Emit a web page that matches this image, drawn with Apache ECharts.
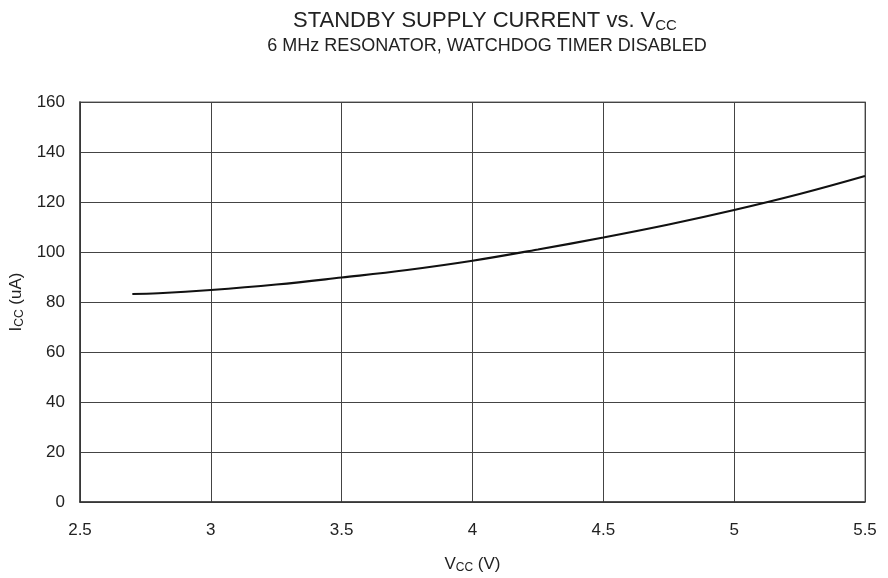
<!DOCTYPE html>
<html>
<head>
<meta charset="utf-8">
<script src="https://cdn.jsdelivr.net/npm/echarts@6/dist/echarts.min.js"></script>
<style>
  html, body { margin: 0; padding: 0; background: #fff; }
  #chart { width: 888px; height: 578px; }
</style>
</head>
<body>
<div id="chart"></div>
<script>
// Vcc (V) and standby Icc (uA)
var vcc = [2.7, 2.8, 3.0, 3.25, 3.5, 3.75, 4.0, 4.25, 4.5, 4.75, 5.0, 5.25, 5.5]
var icc = [83.2, 83.5, 84.8, 87.0, 89.8, 92.8, 96.5, 101.0, 105.8, 111.0, 116.8, 123.2, 130.4]
var xTicks = [2.5, 3, 3.5, 4, 4.5, 5, 5.5]
var yTicks = [0, 20, 40, 60, 80, 100, 120, 140, 160]

var FONT = 'Liberation Sans, Arial, sans-serif'
var chart = echarts.init(document.getElementById('chart'))

var points = vcc.map(function (v, i) { return [v, icc[i]] })

chart.setOption({
  animation: false,
  textStyle: { fontFamily: FONT },
  title: [
    {
      text: '{a|STANDBY SUPPLY CURRENT vs. V}{s|CC}',
      left: 480,
      top: 4,
      textAlign: 'center',
      textStyle: {
        fontWeight: 'normal',
        rich: {
          a: { fontSize: 22, fontWeight: 'normal', color: '#222', fontFamily: FONT },
          s: { fontSize: 15, fontWeight: 'normal', color: '#222', fontFamily: FONT, padding: [9, 0, 0, 0] }
        }
      }
    },
    {
      text: '6 MHz RESONATOR, WATCHDOG TIMER DISABLED',
      left: 482,
      top: 32,
      textAlign: 'center',
      textStyle: { fontSize: 18, fontWeight: 'normal', color: '#222', fontFamily: FONT }
    }
  ],
  grid: {
    left: 80,
    right: 23,
    top: 102,
    bottom: 76,
    outerBoundsMode: 'none',
    containLabel: false,
    show: true,
    borderColor: '#999',
    borderWidth: 1.5
  },
  xAxis: {
    type: 'value',
    min: 2.5,
    max: 5.5,
    interval: 0.5,
    name: '{a|V}{s|CC}{a| (V)}',
    nameLocation: 'middle',
    nameGap: 53,
    nameTextStyle: {
      rich: {
        a: { fontSize: 17, color: '#222', fontFamily: FONT },
        s: { fontSize: 12, color: '#222', fontFamily: FONT, padding: [7, 0, 0, 0] }
      }
    },
    axisLine: { lineStyle: { color: '#333', width: 1.5 } },
    axisTick: { show: false },
    axisLabel: {
      margin: 20,
      fontSize: 17,
      color: '#222',
      formatter: function (v) { return xTicks.indexOf(v) >= 0 ? String(v) : '' }
    },
    splitLine: { lineStyle: { color: '#444', width: 1 } }
  },
  yAxis: {
    type: 'value',
    min: 0,
    max: 160,
    interval: 20,
    name: '{a|I}{s|CC}{a| (uA)}',
    nameLocation: 'middle',
    nameGap: 51,
    nameTextStyle: {
      rich: {
        a: { fontSize: 17, color: '#222', fontFamily: FONT },
        s: { fontSize: 12, color: '#222', fontFamily: FONT, padding: [7, 0, 0, 0] }
      }
    },
    axisLine: { show: true, lineStyle: { color: '#333', width: 1.5 } },
    axisTick: { show: false },
    axisLabel: {
      margin: 15,
      fontSize: 17,
      color: '#222',
      formatter: function (v) { return yTicks.indexOf(v) >= 0 ? String(v) : '' }
    },
    splitLine: { lineStyle: { color: '#444', width: 1 } }
  },
  series: [
    {
      type: 'line',
      data: points,
      smooth: 0.4,
      showSymbol: false,
      lineStyle: { color: '#111', width: 2.2 }
    }
  ]
})
</script>
</body>
</html>
